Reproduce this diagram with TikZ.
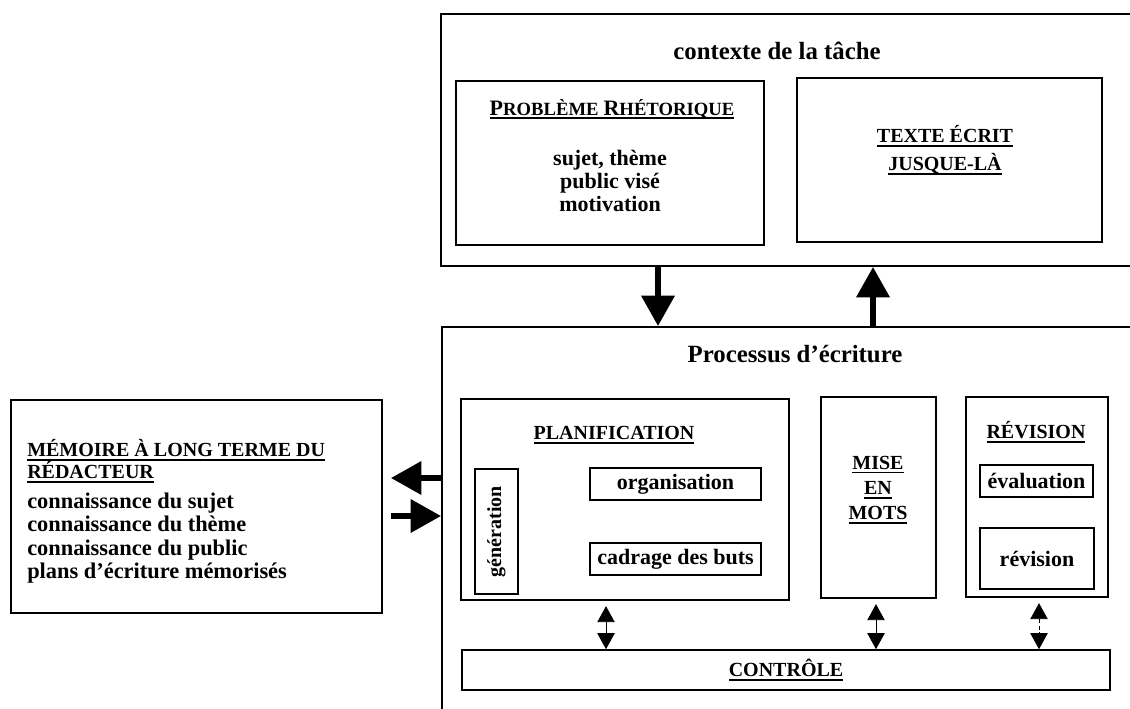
\documentclass[tikz,border=0pt]{standalone}
\usepackage{fontspec}
\setmainfont{Liberation Serif}
\usepackage{xcolor}
\usetikzlibrary{arrows.meta,fit}

\newsavebox{\soulbox}
\newcommand{\souligne}[1]{\sbox{\soulbox}{#1}\rlap{\rule[-3pt]{\wd\soulbox}{1.2pt}}\usebox{\soulbox}}
\newcommand{\fcap}{\fontsize{15}{19}\selectfont\bfseries}
\newcommand{\ftexte}{\fontsize{16.5}{17.4}\selectfont\bfseries}
\newcommand{\ftitre}{\fontsize{18.6}{22}\selectfont\bfseries}
\newcommand{\fmem}{\fontsize{16.8}{17.5}\selectfont\bfseries}
\newcommand{\pcap}[2]{{\fontsize{16.5}{19}\selectfont #1}{\fontsize{14}{19}\selectfont #2}}

\begin{document}
\begin{tikzpicture}[x=0.75pt,y=-0.75pt,
    cadre/.style={draw,line width=1.2pt,inner sep=0pt},
    etiq/.style={font=\fcap,align=center,inner sep=0pt},
    corps/.style={font=\ftexte,align=center,inner sep=0pt},
    fleche/.style={line width=5.2pt,-{Triangle[length=23pt,width=24pt]}},
    dfleche/.style={line width=0.6pt,shorten <=4pt,{Triangle[length=12pt,width=13pt]}-{Triangle[length=12pt,width=13pt]}}]
  \useasboundingbox (0,0) rectangle (1130,709);
  \clip (0,0) rectangle (1130,709);

  % contexte de la tache
  \node[cadre,fit={(441,14) (1160,266)}] (ctx) {};
  \node[font=\ftitre] (ctxtitre) at (777,51) {contexte de la tâche};
  \node[cadre,fit={(456,81) (764,245)}] (rhet) {};
  \node[etiq] (rhettitre) at (612,109) {\souligne{\pcap{P}{ROBLÈME} \pcap{R}{HÉTORIQUE}}};
  \node[corps] (rhetcorps) at (610,181) {sujet, thème\\public visé\\motivation};
  \node[cadre,fit={(797,78) (1102,242)}] (texte) {};
  \node[etiq] (textetitre) at (945,150) {\souligne{TEXTE ÉCRIT}\\[2pt]\souligne{JUSQUE-LÀ}};

  % processus d'ecriture
  \node[cadre,fit={(442,327) (1160,730)}] (proc) {};
  \node[font=\ftitre] (proctitre) at (795,354) {Processus d'écriture};
  \node[cadre,fit={(461,399) (789,600)}] (plan) {};
  \node[etiq] (plantitre) at (614,435) {\souligne{PLANIFICATION}};
  \node[cadre,fit={(475,469) (518,594)}] (gen) {};
  \node[font=\fcap,rotate=90,inner sep=0pt] (gentxt) at (gen.center) {génération};
  \node[cadre,fit={(590,468) (761,500)}] (org) {};
  \node[corps] (orgtxt) at (org.center) {organisation};
  \node[cadre,fit={(590,543) (761,575)}] (cad) {};
  \node[corps] (cadtxt) at (cad.center) {cadrage des buts};
  \node[cadre,fit={(821,397) (936,598)}] (mise) {};
  \node[etiq] (misetxt) at (878,490) {\souligne{MISE}\\\souligne{EN}\\\souligne{MOTS}};
  \node[cadre,fit={(966,397) (1108,597)}] (rev) {};
  \node[etiq] (revtitre) at (1036,432) {\souligne{RÉVISION}};
  \node[cadre,fit={(980,465) (1093,497)}] (eval) {};
  \node[corps] (evaltxt) at (eval.center) {évaluation};
  \node[cadre,fit={(980,528) (1094,589)}] (revi) {};
  \node[corps] (revitxt) at (revi.center) {révision};
  \node[cadre,fit={(462,650) (1110,690)}] (ctrl) {};
  \node[etiq] (ctrltxt) at (ctrl.center) {\souligne{CONTRÔLE}};

  % memoire a long terme
  \node[cadre,fit={(11,400) (382,613)}] (mem) {};
  \node[font=\fcap,align=left,anchor=west,inner sep=0pt] (memtitre) at (27,461) {\souligne{MÉMOIRE À LONG TERME DU}\\[-2.5pt]\souligne{RÉDACTEUR}};
  \node[font=\fmem,align=left,anchor=west,inner sep=0pt] (memcorps) at (27,538) {connaissance du sujet\\connaissance du thème\\connaissance du public\\plans d'écriture mémorisés};

  % fleches
  \draw[fleche] (ctx.south -| 658,0) -- (proc.north -| 658,0);
  \draw[fleche] (proc.north -| 873,0) -- (ctx.south -| 873,0);
  \draw[fleche,shorten >=6pt] (proc.west |- 0,478) -- (mem.east |- 0,478);
  \draw[fleche,shorten <=6pt] (mem.east |- 0,516) -- (proc.west |- 0,516);
  \draw[dfleche] (plan.south -| 606,0) -- (ctrl.north -| 606,0);
  \draw[dfleche] (mise.south -| 876,0) -- (ctrl.north -| 876,0);
  \draw[dfleche,densely dashed] (rev.south -| 1039,0) -- (ctrl.north -| 1039,0);
\end{tikzpicture}
\end{document}
